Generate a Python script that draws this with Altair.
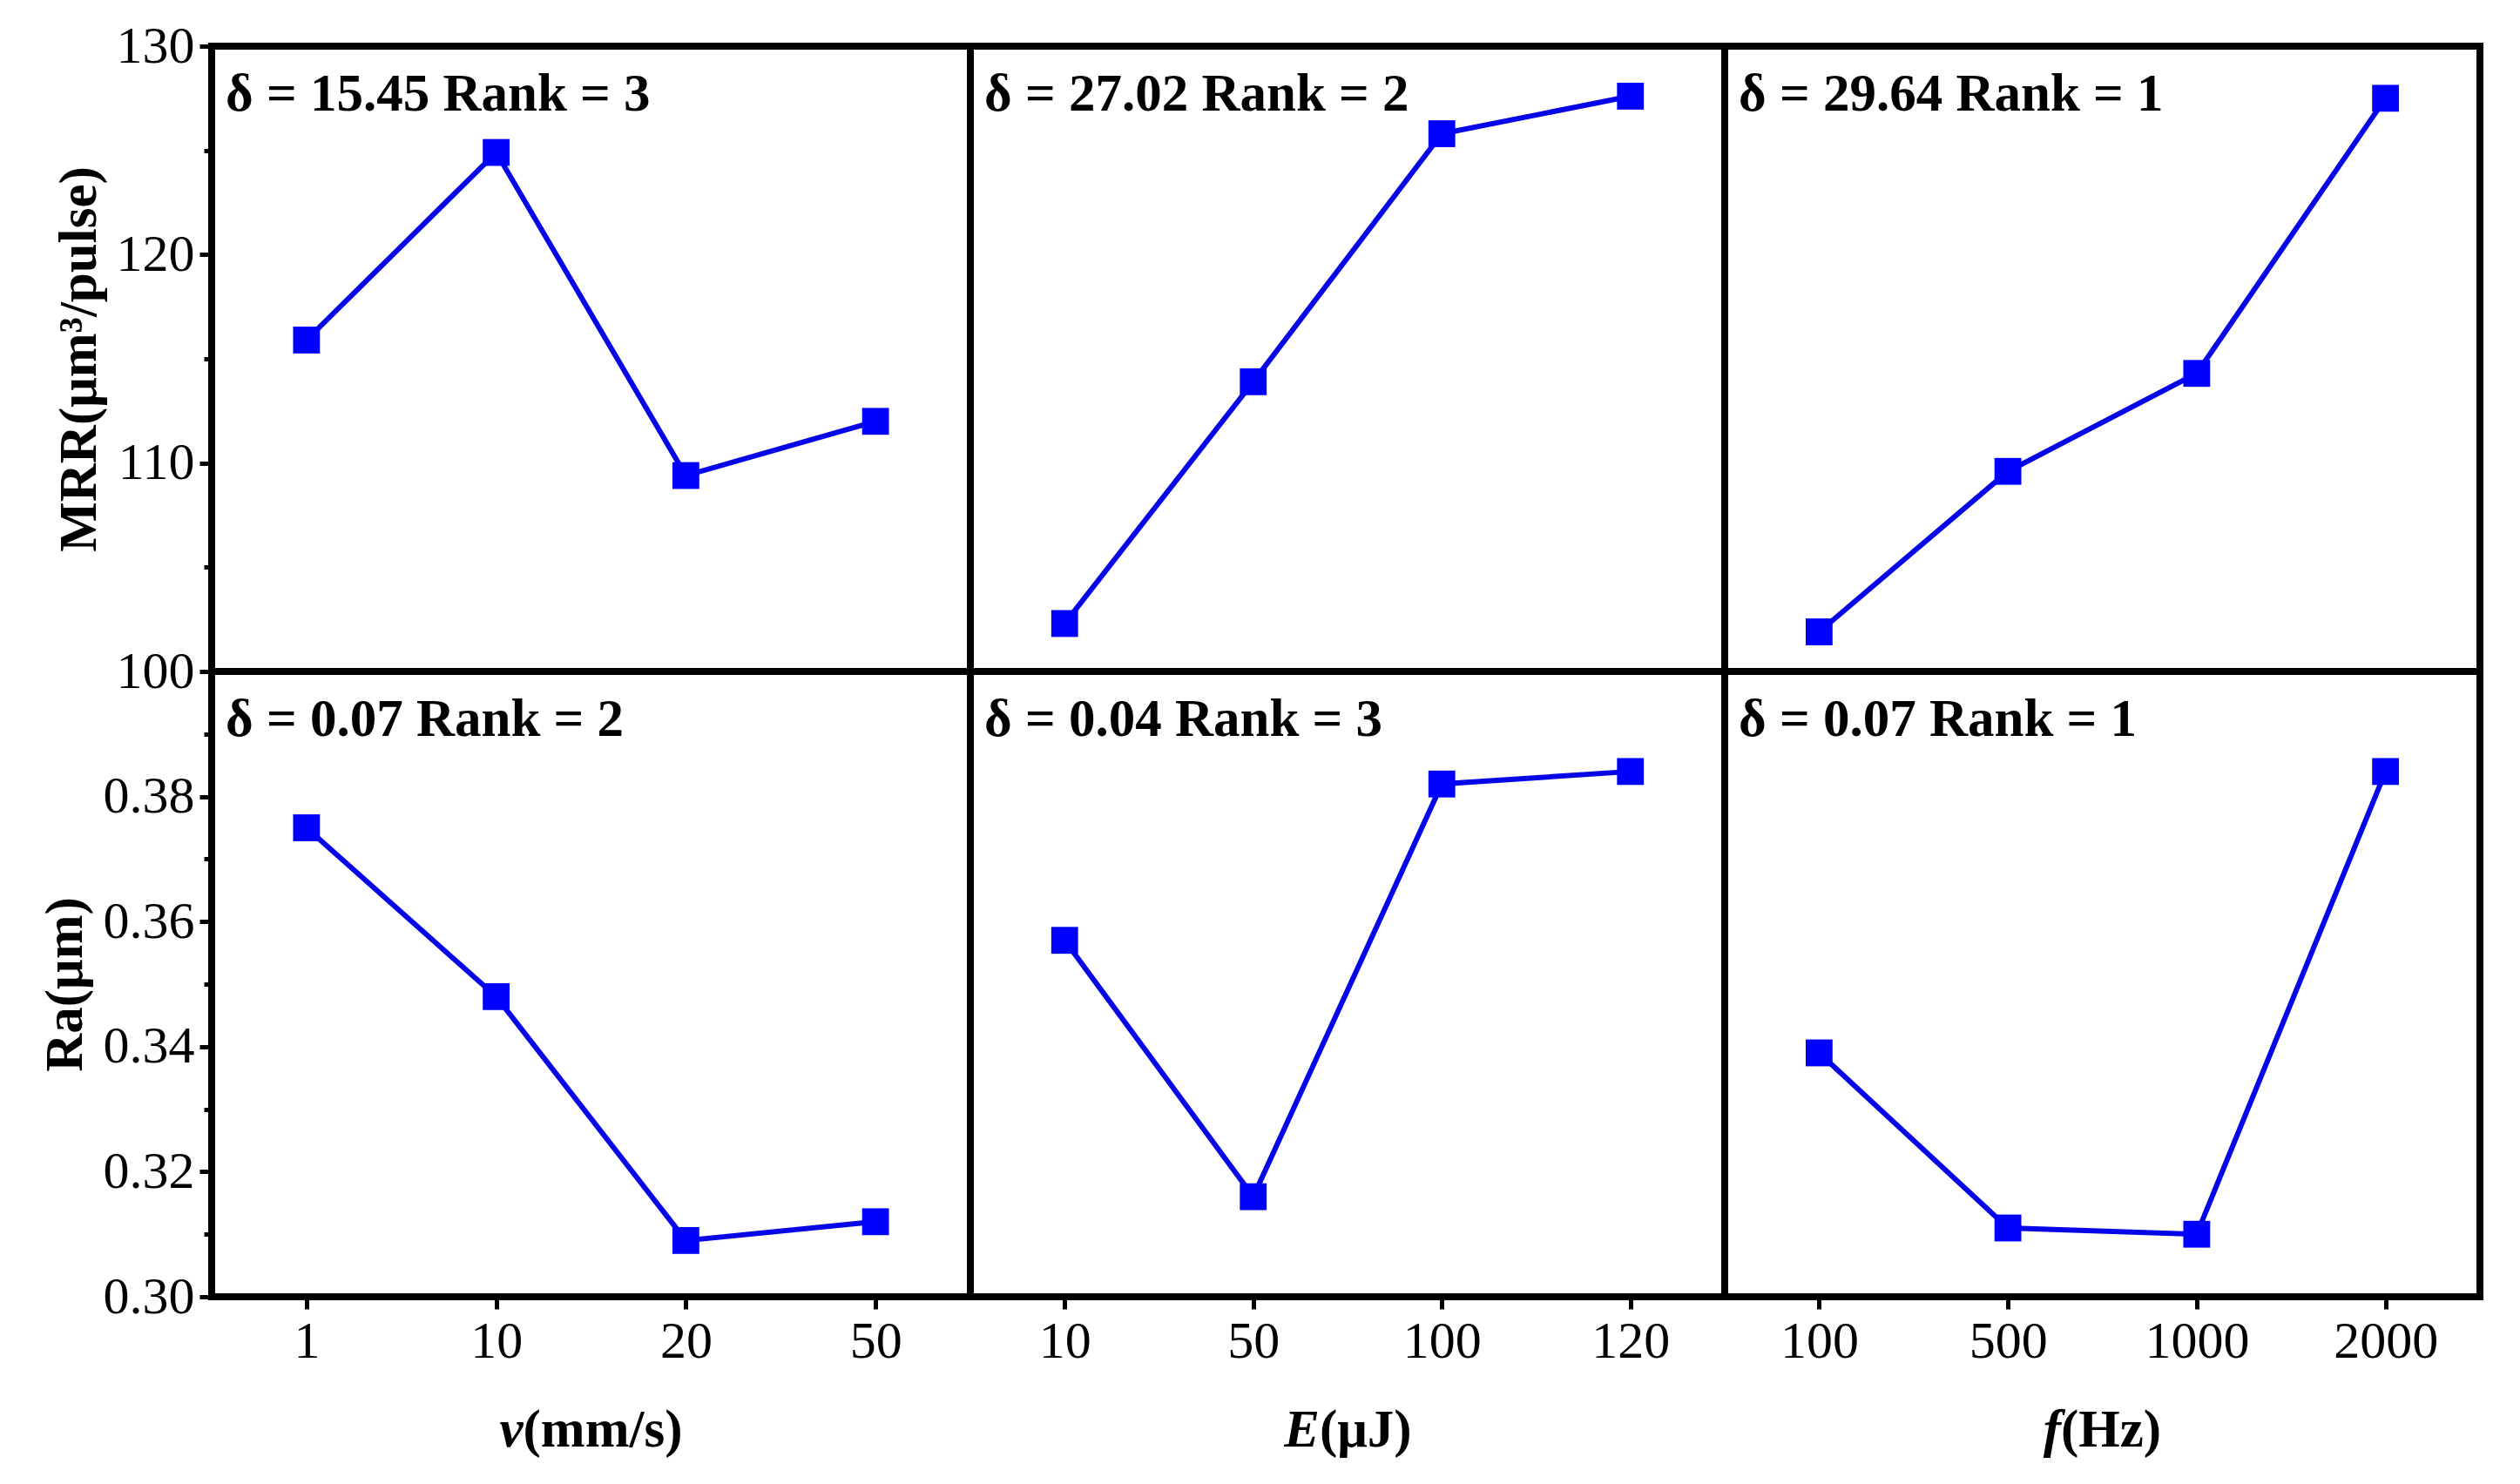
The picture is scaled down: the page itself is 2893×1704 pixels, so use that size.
import altair as alt
import pandas as pd

FONT = "Liberation Serif"

# ---- data ----
v_levels = ["1", "10", "20", "50"]
E_levels = ["10", "50", "100", "120"]
f_levels = ["100", "500", "1000", "2000"]

mrr_v = [115.9, 124.9, 109.4, 112.0]
mrr_E = [102.3, 113.9, 125.8, 127.6]
mrr_f = [101.9, 109.6, 114.3, 127.5]

ra_v = [0.375, 0.348, 0.309, 0.312]
ra_E = [0.357, 0.316, 0.382, 0.384]
ra_f = [0.339, 0.311, 0.310, 0.384]

mrr_notes = ["δ = 15.45 Rank = 3", "δ = 27.02 Rank = 2", "δ = 29.64 Rank = 1"]
ra_notes = ["δ = 0.07 Rank = 2", "δ = 0.04 Rank = 3", "δ = 0.07 Rank = 1"]

x_titles = [("v", "(mm/s)"), ("E", "(μJ)"), ("f", "(Hz)")]
# approximate em widths (Times bold) of the title parts, for centring
x_title_em = [(0.444, 3.00), (0.667, 1.72), (0.333, 1.89)]

mrr_ticks = [100, 105, 110, 115, 120, 125, 130]
ra_ticks = [0.30, 0.31, 0.32, 0.33, 0.34, 0.35, 0.36, 0.37, 0.38, 0.39]

y_titles = ["MRR(μm³/pulse)", "Ra(μm)"]

# ---- layout ----
widths = [871, 866, 867]
heights = [718, 718]
xdomain = [-0.5, 3.5]
ydomains = [[100, 130], [0.30, 0.40]]

BLUE = "#0000FF"
LINEBLUE = "#0505E8"
TICKFS = 60
TITLEFS = 61
NOTEFS = 61


def panel(levels, values, note, row, col):
    w = widths[col]
    h = heights[row]
    df = pd.DataFrame({"idx": list(range(len(levels))), "lvl": levels, "val": values})
    label_expr = "[" + ",".join("'%s'" % l for l in levels) + "][datum.value]"

    if row == 1:
        xaxis = alt.Axis(values=list(range(len(levels))), labelExpr=label_expr, title=None,
                         grid=False, domain=False, ticks=True, tickSize=14, tickWidth=5,
                         tickColor="black", labelFont=FONT, labelFontSize=TICKFS,
                         labelColor="black", labelPadding=8)
    else:
        xaxis = None

    if col == 0:
        if row == 0:
            test = "datum.value % 10 === 0"
            fmt = "d"
            ticks = mrr_ticks
            tx = -152
        else:
            test = "round(datum.value * 100) % 2 === 0"
            fmt = ".2f"
            ticks = ra_ticks
            tx = -168
        yaxis = alt.Axis(values=ticks, format=fmt,
                         labelExpr="(%s) ? datum.label : ''" % test,
                         tickSize={"condition": {"test": test, "value": 14}, "value": 9},
                         tickWidth=5, tickColor="black", domain=False, grid=False,
                         labelFont=FONT, labelFontSize=TICKFS, labelColor="black",
                         labelPadding=6, title=y_titles[row], titleFont=FONT,
                         titleFontSize=TITLEFS, titleFontWeight="bold", titleColor="black",
                         titleX=tx, titleY=h / 2, titleAngle=270, titleAlign="center",
                         titleBaseline="middle")
    else:
        yaxis = None

    x = alt.X("idx:Q", scale=alt.Scale(domain=xdomain, nice=False, zero=False), axis=xaxis)
    y = alt.Y("val:Q", scale=alt.Scale(domain=ydomains[row], nice=False, zero=False), axis=yaxis)

    base = alt.Chart(df)
    line = base.mark_line(color=LINEBLUE, strokeWidth=6).encode(x=x, y=y)
    pts = base.mark_point(shape="square", filled=True, size=950, opacity=1, color=BLUE).encode(x=x, y=y)

    txt = alt.Chart(pd.DataFrame({"note": [note]})).mark_text(
        align="left", baseline="alphabetic", font=FONT, fontSize=NOTEFS,
        fontWeight="bold", color="black"
    ).encode(text="note:N", x=alt.value(16), y=alt.value(74))

    layers = [line, pts, txt]

    if row == 1:
        it, rest = x_titles[col]
        ie, re_ = x_title_em[col]
        total = (ie + re_) * TITLEFS
        split = w / 2 - total / 2 + ie * TITLEFS
        t1 = alt.Chart(pd.DataFrame({"t": [it]})).mark_text(
            align="right", baseline="middle", font=FONT, fontSize=TITLEFS,
            fontWeight="bold", fontStyle="italic", color="black"
        ).encode(text="t:N", x=alt.value(split), y=alt.value(h + 154))
        t2 = alt.Chart(pd.DataFrame({"t": [rest]})).mark_text(
            align="left", baseline="middle", font=FONT, fontSize=TITLEFS,
            fontWeight="bold", color="black"
        ).encode(text="t:N", x=alt.value(split), y=alt.value(h + 154))
        layers += [t1, t2]

    return alt.layer(*layers).properties(width=w, height=h)


panels = []
for row, (vals_list, notes) in enumerate([([mrr_v, mrr_E, mrr_f], mrr_notes),
                                          ([ra_v, ra_E, ra_f], ra_notes)]):
    for col, (lv, vals, note) in enumerate(zip([v_levels, E_levels, f_levels], vals_list, notes)):
        panels.append(panel(lv, vals, note, row, col))

chart = alt.concat(
    *panels, columns=3, spacing=0, bounds="flush"
).properties(
    padding={"left": 32, "top": 11, "right": 10, "bottom": 10},
    background="white"
).configure_view(
    stroke="black", strokeWidth=8
)

chart.save("out.html", embed_options={"renderer": "svg", "actions": False})
